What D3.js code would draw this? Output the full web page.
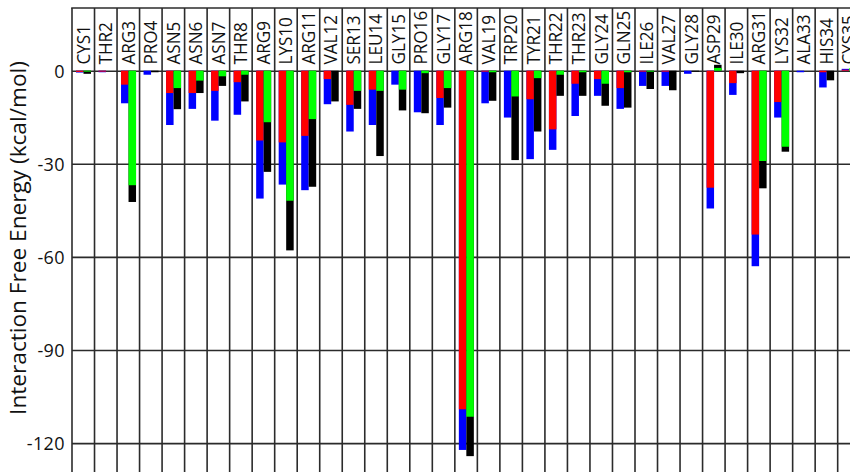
<!DOCTYPE html>
<html>
<head>
<meta charset="utf-8">
<script src="https://cdn.jsdelivr.net/npm/d3@7/dist/d3.min.js"></script>
<style>
  html, body { margin: 0; padding: 0; background: #fff; overflow: hidden; }
  svg { display: block; }
  text { font-family: "Open Sans", "Noto Sans", sans-serif; fill: #111; }
</style>
</head>
<body>
<svg id="chart" width="850" height="472"></svg>
<script>
const categories = ["CYS1","THR2","ARG3","PRO4","ASN5","ASN6","ASN7","THR8","ARG9","LYS10",
  "ARG11","VAL12","SER13","LEU14","GLY15","PRO16","GLY17","ARG18","VAL19","TRP20",
  "TYR21","THR22","THR23","GLY24","GLN25","ILE26","VAL27","GLY28","ASP29","ILE30",
  "ARG31","LYS32","ALA33","HIS34","CYS35"];

// left slot: blue drawn behind, red in front
const blueValues = [-0.6,-0.5,-10.5,-1.3,-17.5,-12.3,-16.1,-14.2,-41.2,-36.7,
  -38.5,-10.8,-19.6,-17.5,-4.5,-13.4,-17.5,-122.2,-10.5,-15.1,
  -28.5,-25.5,-14.6,-8.1,-12.3,-4.9,-4.9,-1.0,-44.4,-7.8,
  -63.0,-15.1,-0.5,-5.4,0.6];
const redValues = [-0.4,-0.3,-4.5,0,-7.2,-7.2,-6.5,-3.7,-22.5,-23.1,
  -21.0,-2.7,-11.0,-6.1,0,0,-8.8,-109.1,-0.3,0,
  -9.2,-18.9,-4.2,-2.7,-5.6,-0.3,-0.3,0,-37.7,-4.0,
  -52.8,-10.1,0,-0.5,0.3];
// right slot: black drawn behind, green in front
const blackValues = [-1.0,0,-42.3,-0.5,-12.4,-7.2,-4.9,-9.9,-32.6,-57.9,
  -37.4,-9.9,-12.3,-27.5,-12.8,-13.7,-11.9,-124.2,-9.7,-28.8,
  -19.6,-8.1,-8.1,-11.3,-11.9,-5.9,-6.3,-0.3,1.9,-0.8,
  -37.9,-26.1,0,-3.1,0];
const greenValues = [-0.3,0,-36.9,0,-5.6,-3.2,-1.8,-1.3,-16.6,-41.9,
  -15.6,0,-6.5,-6.5,-6.1,-0.8,-5.6,-111.5,-0.5,-8.3,
  -2.4,-1.3,-0.5,-4.2,-0.5,-0.3,0,0,0.9,0,
  -29.1,-24.5,0,0,0.8];

const yTicks = [0, -30, -60, -90, -120];
const yTitle = "Interaction Free Energy (kcal/mol)";

const svg = d3.select("#chart");
const W = 850, H = 472;
const plotLeft = 72, plotTop = 8;

const x = d3.scaleBand().domain(categories).range([plotLeft, plotLeft + 35 * 22.52]).padding(0);
const slot = d3.scaleBand().domain([0, 1]).range([4, 19]).padding(0);
const y = d3.scaleLinear().domain([0, -120]).range([70.7, 443.1]);

const gridColor = "#2b2b2b";

// horizontal grid via axis
const yAxis = d3.axisLeft(y).tickValues(yTicks).tickSize(-(W - plotLeft + 20)).tickPadding(7)
  .tickFormat(d => String(d));
const gy = svg.append("g").attr("transform", `translate(${plotLeft},0)`).call(yAxis);
gy.select(".domain").remove();
gy.selectAll(".tick line").attr("stroke", gridColor).attr("stroke-width", 1.6);
gy.selectAll(".tick text").attr("font-size", 18).attr("fill", "#111")
  .style("font-family", '"Open Sans", sans-serif').style("letter-spacing", "0.4px")
  .attr("x", -7).attr("dy", "0.36em");

// vertical column lines
const colEdges = categories.map(c => x(c)).concat([x(categories[categories.length - 1]) + x.bandwidth()]);
svg.append("g").selectAll("line").data(colEdges).join("line")
  .attr("x1", d => d).attr("x2", d => d).attr("y1", plotTop).attr("y2", H)
  .attr("stroke", gridColor).attr("stroke-width", 1.6);
// top border
svg.append("line").attr("x1", plotLeft - 0.8).attr("x2", W + 20).attr("y1", plotTop).attr("y2", plotTop)
  .attr("stroke", gridColor).attr("stroke-width", 1.6);

// bars
function drawBars(values, slotIdx, color) {
  svg.append("g").selectAll("rect").data(values.map((v, i) => ({ c: categories[i], v })))
    .join("rect")
    .attr("x", d => x(d.c) + slot(slotIdx))
    .attr("width", slot.bandwidth())
    .attr("y", d => Math.min(y(d.v), y(0)))
    .attr("height", d => Math.abs(y(d.v) - y(0)))
    .attr("fill", color);
}
drawBars(blueValues, 0, "#0000ff");
drawBars(redValues, 0, "#ff0000");
drawBars(blackValues, 1, "#000000");
drawBars(greenValues, 1, "#00ff00");

// category labels (rotated)
svg.append("g").selectAll("text").data(categories).join("text")
  .attr("transform", d => `translate(${x(d) + x.bandwidth() / 2 + 6.3},64.5) rotate(-90) scale(0.95,1)`)
  .attr("text-anchor", "start")
  .attr("font-size", 18)
  .text(d => d);

// y title
const t = svg.append("text")
  .attr("transform", "translate(26,238) rotate(-90)")
  .attr("text-anchor", "middle")
  .attr("font-size", 18)
  .text(yTitle);
const len = t.node().getComputedTextLength();
if (len > 0) t.attr("font-size", 18 * 354 / len);
</script>
</body>
</html>
